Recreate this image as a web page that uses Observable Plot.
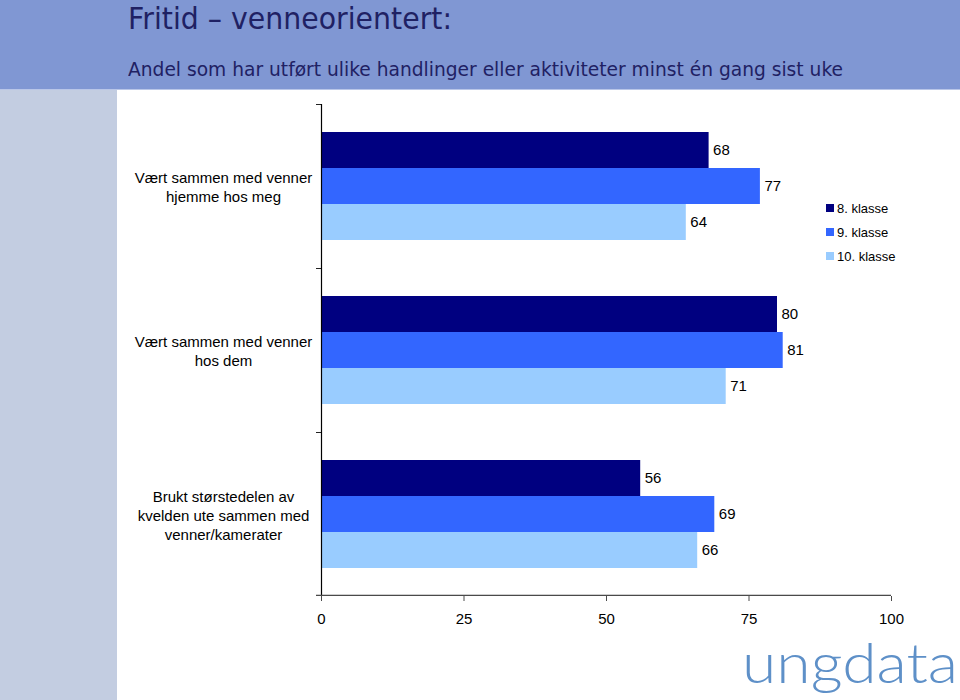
<!DOCTYPE html>
<html>
<head>
<meta charset="utf-8">
<script src="https://cdn.jsdelivr.net/npm/d3@7"></script>
<script src="https://cdn.jsdelivr.net/npm/@observablehq/plot@0.6"></script>
<style>
  html, body { margin: 0; padding: 0; background: #fff; }
  #page { position: relative; width: 960px; height: 700px; overflow: hidden; font-family: "Liberation Sans", Arial, sans-serif; }
  #header { position: absolute; left: 0; top: 0; width: 960px; height: 89px; background: #8097d3; border-bottom: 1px solid #b9c6e8; }
  #strip { position: absolute; left: 0; top: 90px; width: 117px; height: 610px; background: #c3cde1; }
  .htext { position: absolute; left: 128px; white-space: nowrap; font-family: "DejaVu Sans", Verdana, sans-serif; color: #1f2163; line-height: 1; transform-origin: 0 50%; }
  #title { top: 3px; font-size: 31px; }
  #subtitle { top: 60px; font-size: 19px; }
  #chart { position: absolute; left: 0; top: 90px; }
  #legend { position: absolute; left: 826px; top: 196px; font-family: "Liberation Sans", Arial, sans-serif; font-size: 13px; color: #000; }
  .lg { display: flex; align-items: center; height: 24px; }
  .sw { width: 8px; height: 8px; margin-right: 3px; }
  #logo { position: absolute; left: 742px; top: 642px; font-family: Lato, sans-serif; font-weight: 300; font-size: 55px; line-height: 40px; height: 40px; color: #5e90c8; white-space: nowrap; transform-origin: 0 50%; }
</style>
</head>
<body>
<div id="page">
  <div id="header"></div>
  <div id="strip"></div>
  <div id="title" class="htext">Fritid – venneorientert:</div>
  <div id="subtitle" class="htext">Andel som har utført ulike handlinger eller aktiviteter minst én gang sist uke</div>
  <div id="chart"></div>
  <div id="legend"></div>
  <div id="logo">ungdata</div>
</div>
<script>
// ---- data ----
const categories = [
  "Vært sammen med venner hjemme hos meg",
  "Vært sammen med venner hos dem",
  "Brukt størstedelen av kvelden ute sammen med venner/kamerater"
];
const categoryLabels = [
  "Vært sammen med venner\nhjemme hos meg",
  "Vært sammen med venner\nhos dem",
  "Brukt størstedelen av\nkvelden ute sammen med\nvenner/kamerater"
];
const series = ["8. klasse", "9. klasse", "10. klasse"];
const values8 = [68, 80, 56];
const values9 = [77, 81, 69];
const values10 = [64, 71, 66];
const colors = ["#000080", "#3366ff", "#99ccff"];
const xTicks = [0, 25, 50, 75, 100];

// ---- table built from the arrays ----
const seriesValues = [values8, values9, values10];
const rows = [];
categories.forEach((c, ci) => {
  series.forEach((s, si) => rows.push({category: c, series: s, value: seriesValues[si][ci]}));
});

const W = 960, H = 610;
const mL = 321, mR = 69, mT = 13, mB = 104;
const facetH = (H - mT - mB) / categories.length;

const chart = Plot.plot({
  width: W,
  height: H,
  marginLeft: mL,
  marginRight: mR,
  marginTop: mT,
  marginBottom: mB,
  style: {background: "none", fontFamily: "Liberation Sans, Arial, sans-serif", fontSize: "15px", color: "#000", overflow: "visible"},
  x: {domain: [0, 100]},
  y: {domain: series, axis: null, paddingInner: 0, paddingOuter: 0.75},
  fy: {domain: categories, axis: null, padding: 0},
  color: {domain: series, range: colors},
  marks: [
    Plot.barX(rows, {x: "value", y: "series", fy: "category", fill: "series"}),
    Plot.text(rows, {x: "value", y: "series", fy: "category", text: d => String(d.value), textAnchor: "start", dx: 4, fontSize: 15, fill: "#000"}),
    Plot.text(categories, {fy: d => d, text: d => categoryLabels[categories.indexOf(d)], frameAnchor: "left", dx: -98, textAnchor: "middle", lineHeight: 1.27, fontSize: 15, fill: "#000"}),
    // y axis line
    Plot.ruleX([0], {stroke: "#000", strokeWidth: 1.2}),
    // category boundary ticks on the y axis
    Plot.rect(categories, {fy: d => d, x1: () => 0, x2: () => 0, insetLeft: -5, insetBottom: facetH - 1.2, fill: "#000"}),
    // x axis line (bottom facet only)
    Plot.rect([0], {x1: () => 0, x2: () => 100, insetLeft: -5, insetTop: facetH - 1.6, fill: "#4a4a4a", facetAnchor: "bottom"}),
    Plot.axisX({ticks: xTicks, tickSize: 5, tickPadding: 12, fontSize: 15, label: null, stroke: "#4a4a4a", fill: "#000"})
  ]
});
document.getElementById("chart").appendChild(chart);

// legend
const legend = document.getElementById("legend");
series.forEach((s, i) => {
  const row = document.createElement("div");
  row.className = "lg";
  const sw = document.createElement("div");
  sw.className = "sw";
  sw.style.background = colors[i];
  const t = document.createElement("span");
  t.textContent = s;
  row.appendChild(sw);
  row.appendChild(t);
  legend.appendChild(row);
});

// fit the condensed header text widths
function fit(id, target) {
  const el = document.getElementById(id);
  const w = el.getBoundingClientRect().width;
  if (w > 0) el.style.transform = `scaleX(${target / w})`;
}
fit("title", 324);
fit("subtitle", 715);
fit("logo", 216);
</script>
</body>
</html>
